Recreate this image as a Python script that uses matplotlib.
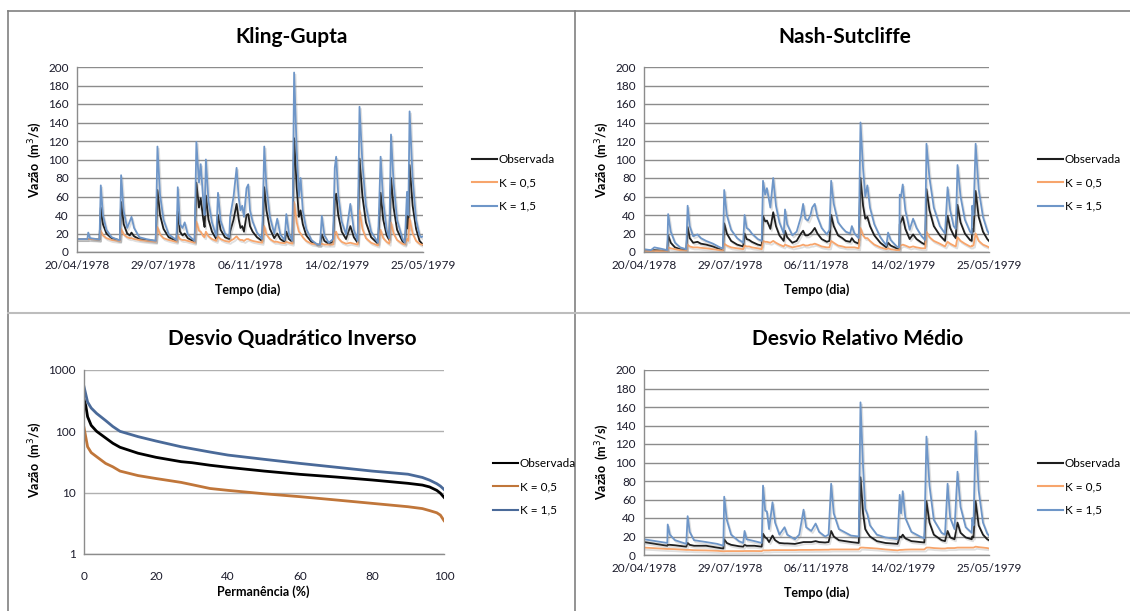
import matplotlib
matplotlib.use("Agg")
import matplotlib.pyplot as plt
import matplotlib.dates as mdates
import matplotlib.patheffects as pe
from matplotlib.lines import Line2D
import pandas as pd

plt.rcParams["font.family"] = ["Lato", "DejaVu Sans"]

START = pd.Timestamp("1978-04-20")
date_ticks = ["20/04/1978", "29/07/1978", "06/11/1978", "14/02/1979", "25/05/1979"]
labels = ["Observada", "K = 0,5", "K = 1,5"]

# ---- Kling-Gupta (dias desde 20/04/1978, vazão m3/s) ----
kg_days = [0, 10, 12, 13, 15, 26, 27.5, 30, 34, 40, 48, 49.5, 51, 54, 58, 61, 63, 66, 72, 80,
           91, 93, 96, 100, 106, 115, 116.5, 119, 122, 124.5, 128, 136, 138, 141, 143, 146,
           147.5, 149, 152, 156, 161, 163, 166, 171, 176, 177, 181, 184.5, 187, 189, 191, 193,
           196, 198, 200, 203, 208, 214, 216.5, 219, 223, 228, 231.5, 235, 240, 242, 245, 249,
           251, 254, 256.5, 258.5, 261, 265, 271, 278, 281, 283, 286, 291, 296, 298, 299.6,
           302, 306, 311, 316, 320, 324.5, 326.6, 330, 334, 340, 348, 351, 354, 358, 361, 363,
           366, 370, 376, 379, 381.5, 383, 384.5, 388, 392, 396, 398, 400]
kg_obs = [14, 14, 14, 14, 14, 13.5, 48, 30, 20, 15, 13, 13, 54, 30, 20, 18, 21, 17, 14, 13,
          12, 67, 40, 25, 16, 12, 44, 22, 18, 20, 15, 11, 75, 48, 58, 35,
          27, 61, 35, 22, 14, 40, 24, 16, 14, 22, 35, 52, 35, 26, 28, 22,
          40, 41, 28, 22, 16, 12, 70, 45, 25, 15, 20, 14, 11, 22, 14, 11,
          123, 70, 38, 45, 30, 18, 11, 8, 8, 19, 12, 9, 11, 56, 63,
          40, 22, 14, 28, 16, 10, 101, 60, 32, 16, 9, 64, 35, 18, 13, 80,
          48, 24, 12, 9, 40, 25, 94, 50, 25, 12, 10, 8]
kg_k05 = [14, 14, 14, 14, 14, 13.5, 23, 18, 15, 13, 12, 12, 25, 19, 16, 15, 15, 14, 13, 12,
          11, 27, 19, 15, 13, 11, 18, 14, 13, 13, 12, 10, 33, 23, 22, 17,
          16, 22, 17, 14, 12, 17, 14, 12, 11, 12, 14, 17, 14, 13, 13, 12,
          14, 14, 13, 12, 11, 10, 28, 19, 14, 11, 11, 10, 9.5, 11, 10, 9,
          54, 32, 22, 20, 16, 12, 9, 8, 8, 9, 8, 8, 8, 20, 22,
          15, 11, 9, 10, 9, 8, 45, 25, 15, 10, 7, 24, 15, 11, 9, 32,
          20, 13, 9, 8, 14, 12, 36, 20, 12, 9, 8, 8]
kg_k15 = [14, 14, 14, 21, 15, 13.5, 72, 40, 24, 16, 13, 13, 83, 44, 26, 33, 38, 26, 16, 14,
          12, 114, 62, 35, 19, 13, 70, 30, 26, 32, 19, 12, 119, 75, 95, 55,
          40, 100, 55, 32, 17, 64, 34, 20, 16, 38, 60, 91, 58, 45, 50, 38,
          69, 73, 45, 33, 21, 14, 114, 70, 38, 20, 36, 19, 13, 41, 20, 12,
          194, 110, 60, 80, 45, 25, 13, 8, 8, 39, 18, 10, 14, 91, 103,
          62, 33, 19, 52, 24, 12, 157, 95, 50, 22, 10, 103, 55, 24, 15, 127,
          75, 35, 15, 10, 65, 40, 152, 80, 35, 18, 16, 17]

# ---- Nash-Sutcliffe ----
ns_days = [0, 8, 12, 20, 27, 28, 31, 36, 42, 49, 50.6, 53, 57, 62, 66, 72, 80, 88, 91.5, 93,
           96, 101, 108, 115, 116.6, 119, 122, 125, 132, 136.5, 138, 140.5, 142.5, 146.5,
           149.8, 153, 157, 162, 163.5, 166, 172, 177, 182, 184.5, 187, 190, 193, 195, 198,
           201, 206, 212, 215, 217, 220, 225, 230, 234, 239, 241, 244, 249, 251, 254, 256.5,
           259, 262, 267, 274, 281, 283, 286, 293, 296, 296.5, 298, 300, 303, 308, 312, 316,
           322, 326, 327.5, 331, 336, 343, 349, 352, 355, 359, 361.5, 363.5, 367, 372, 378,
           380, 380.5, 382, 384.5, 388, 393, 398, 400]
ns_obs = [2, 1.5, 2, 1.5, 1, 18, 10, 5, 3, 2, 27, 15, 10, 11, 9, 8, 6, 3, 2, 31,
          20, 12, 8, 6, 20, 14, 13, 11, 8, 7, 39, 33, 34, 25,
          43, 28, 18, 12, 23, 16, 10, 12, 20, 23, 18, 18, 20, 22, 26,
          20, 14, 11, 12, 40, 28, 18, 15, 12, 11, 15, 11, 9, 80, 50, 36,
          38, 28, 18, 10, 5, 10, 7, 4, 3, 30, 33, 38, 25, 14, 19, 14,
          10, 8, 68, 45, 28, 18, 12, 39, 26, 18, 15, 51, 32, 20, 13,
          12, 25, 22, 66, 38, 22, 14, 12]
ns_k05 = [1, 1, 1, 1, 0.8, 5, 4, 3, 2, 1.5, 8, 6, 5, 5, 4.5, 4, 3, 2, 1.5, 9,
          7, 5, 4, 3, 7, 6, 6, 5, 4, 3, 12, 11, 11, 10,
          12, 10, 8, 6, 8, 7, 5, 6, 7, 8, 7, 7, 8, 8, 9,
          8, 6, 5, 5, 12, 10, 7, 6, 5, 5, 5, 5, 4, 26, 18, 15,
          15, 12, 8, 5, 3, 4, 3, 2, 2, 6, 7, 8, 7, 5, 6, 5,
          4, 4, 22, 16, 12, 9, 6, 11, 9, 7, 6, 16, 12, 9, 6,
          6, 7, 7, 20, 12, 8, 6, 5]
ns_k15 = [3, 2, 5, 3.5, 2, 41, 22, 10, 5, 3, 50, 28, 17, 19, 15, 12, 9, 5, 4, 67,
          40, 24, 15, 10, 40, 26, 24, 20, 14, 12, 77, 62, 69, 48,
          80, 50, 32, 20, 46, 30, 18, 22, 38, 52, 36, 34, 40, 48, 52,
          38, 26, 19, 24, 77, 52, 32, 26, 22, 20, 28, 20, 15, 140, 90, 60,
          72, 48, 30, 16, 7, 21, 13, 6, 5, 62, 60, 73, 45, 24, 36, 26,
          17, 13, 117, 80, 48, 28, 20, 70, 45, 28, 25, 94, 60, 35, 22,
          20, 50, 40, 117, 68, 38, 23, 20]

# ---- Desvio Quadrático Inverso (curva de permanência) ----
dqi_perm = [0, 0.5, 1, 2, 3.5, 6, 8, 10, 15, 20, 27, 30, 35, 40, 50, 60, 70, 80, 90, 94, 96,
            98, 99, 100]
dqi_obs = [330, 260, 173, 125, 100, 78, 64, 55, 44, 37.7, 32, 30.8, 28, 25.9, 22.5, 19.9, 18,
           16.1, 14.2, 13.3, 12.4, 10.9, 9.8, 8.4]
dqi_k05 = [115, 80, 56, 45, 38.6, 30, 26.4, 22.5, 19, 17, 14.7, 13.5, 11.7, 10.9, 9.6, 8.6, 7.6,
           6.7, 5.9, 5.5, 5.1, 4.7, 4.3, 3.5]
dqi_k15 = [535, 400, 300, 240, 196, 150, 120, 100, 82, 69.5, 56, 52, 46, 41, 35, 30, 26,
           22.5, 20, 17.7, 16, 14, 12.8, 11.3]

# ---- Desvio Relativo Médio ----
drm_days = [0, 10, 27, 27.5, 30, 36, 49, 50.6, 53, 58, 72, 85, 92, 93, 96, 101, 110, 115, 116.6,
            119, 128, 136.5, 138, 140.5, 142.5, 145, 149, 152, 157, 163, 166, 175, 180, 185,
            188, 194, 199, 203, 210, 214, 217, 220, 226, 240, 249, 251, 254, 256.5, 259, 262,
            270, 280, 294, 296.5, 298, 300, 303, 310, 320, 325, 327.5, 331, 336, 345, 349, 352,
            355, 360, 363.5, 367, 373, 380, 380.5, 382, 384.5, 388, 393, 398, 400]
drm_obs = [14, 12.5, 10, 11, 11, 10.5, 9, 13, 11, 10, 10, 8, 7, 17, 13, 11, 9.5, 9, 11,
           10, 10, 9, 23, 19, 18, 14, 21, 16, 13, 12.5, 12.5, 12, 13, 14,
           14, 14, 15, 14, 13.5, 14, 26, 20, 16, 14, 13, 84, 45, 28, 24, 20,
           15, 13, 12, 20, 19, 22, 18, 15, 14, 13.5, 58, 35, 22, 16, 15, 26,
           19, 17, 35, 24, 19, 17, 20, 19, 58, 32, 22, 17, 16]
drm_k05 = [8, 7.5, 6.5, 6.5, 6.5, 6.3, 5.5, 5.5, 5.5, 5.2, 5, 4.5, 4, 4, 4.2, 4.2, 4.2, 4.2, 4.3,
           4.3, 4.3, 4.2, 5, 5, 5, 5, 5.3, 5.3, 5.3, 5.3, 5.3, 5.3, 5.5, 5.5,
           5.5, 5.5, 5.6, 5.6, 5.7, 5.7, 6, 6, 6, 6, 6, 8, 8, 7.8, 7.7, 7.5,
           7, 6, 5, 5.5, 5.5, 5.6, 5.8, 6, 6, 6, 8, 8, 7.5, 7, 7, 7.5,
           7.5, 7.5, 8, 8, 8, 8, 8, 8, 9, 8.5, 8, 7.5, 7]
drm_k15 = [17, 15.5, 13, 33, 22, 16, 12, 42, 25, 16, 14, 12, 10, 63, 38, 22, 15, 13, 26,
           17, 15, 13, 75, 48, 47, 28, 57, 35, 22, 30, 22, 17, 22, 49,
           30, 26, 34, 25, 20, 22, 77, 45, 28, 21, 20, 165, 95, 50, 44, 32,
           22, 19, 17, 65, 45, 69, 40, 25, 20, 18, 128, 75, 38, 24, 22, 77,
           40, 28, 90, 52, 30, 24, 40, 32, 134, 70, 35, 23, 21]

TS_COLORS = ["#1e1e1e", "#f7a56c", "#6e96c8"]
FDC_COLORS = ["#000000", "#c0763a", "#4a6a99"]
TICK_COLOR = "#1b1b2b"
W, H = 1130, 611
SHADOW = [pe.SimpleLineShadow(offset=(1, -1.5), shadow_color="#808080", alpha=0.25), pe.Normal()]


def fx(px):
    return px / W


def fy(py):
    return 1 - py / H


def style_axes(ax):
    for side in ("top", "right"):
        ax.spines[side].set_visible(False)
    for side in ("left", "bottom"):
        ax.spines[side].set_color("#8c8c8c")
        ax.spines[side].set_linewidth(1)
    ax.tick_params(length=0, labelsize=8.5, colors=TICK_COLOR, pad=6)
    ax.set_axisbelow(True)


def add_legend(ax, colors, y_center):
    handles = [Line2D([], [], color=c, lw=1.5) for c in colors]
    bb = ax.get_position()
    fig.legend(handles, labels, loc="center left",
               bbox_to_anchor=(bb.x1 + fx(49), fy(y_center)), frameon=False,
               fontsize=8.5, handlelength=2.1, handletextpad=0.15, labelspacing=1.05,
               borderpad=0, borderaxespad=0)


def time_panel(rect, days, series, title, title_x, title_y, legend_y):
    ax = fig.add_axes(rect)
    x = START + pd.to_timedelta(pd.Series(days), unit="D")
    for vals, c in zip(series, TS_COLORS):
        ax.plot(x, vals, color=c, lw=1.3, solid_joinstyle="round", path_effects=SHADOW)
    ax.set_xlim(START, START + pd.Timedelta(days=400))
    ax.set_ylim(0, 200)
    ax.set_yticks(range(0, 201, 20))
    ticks = [pd.to_datetime(d, format="%d/%m/%Y") for d in date_ticks]
    ax.set_xticks(ticks)
    ax.xaxis.set_major_formatter(mdates.DateFormatter("%d/%m/%Y"))
    ax.tick_params(axis="x", pad=10)
    ax.grid(axis="y", color="#8c8c8c", lw=1)
    style_axes(ax)
    add_legend(ax, TS_COLORS, legend_y)
    fig.text(fx(title_x), fy(title_y), title, ha="center", va="center", fontsize=15,
             fontweight="bold", color="black")
    return ax


fig = plt.figure(figsize=(11.3, 6.11), dpi=100)

# moldura da grade 2x2
fig.add_artist(Line2D([fx(8), fx(8)], [0, fy(11)], color="#808080", lw=1.2))
fig.add_artist(Line2D([fx(8), 1], [fy(11), fy(11)], color="#808080", lw=1.2))
fig.add_artist(Line2D([fx(575), fx(575)], [0, fy(11)], color="#808080", lw=1.2))
fig.add_artist(Line2D([fx(8), 1], [fy(313), fy(313)], color="#bdbdbd", lw=1.5))

time_panel([fx(77), fy(252), fx(346), fy(67) - fy(252)], kg_days,
           [kg_obs, kg_k05, kg_k15], "Kling-Gupta", 292, 37, 183)
time_panel([fx(644), fy(252), fx(345), fy(67) - fy(252)], ns_days,
           [ns_obs, ns_k05, ns_k15], "Nash-Sutcliffe", 845, 37, 183)
time_panel([fx(644), fy(555), fx(345), fy(370) - fy(555)], drm_days,
           [drm_obs, drm_k05, drm_k15], "Desvio Relativo Médio", 858, 339, 487)

# curva de permanência
ax3 = fig.add_axes([fx(84), fy(554), fx(360), fy(370) - fy(554)])
for vals, c in zip([dqi_obs, dqi_k05, dqi_k15], FDC_COLORS):
    ax3.plot(dqi_perm, vals, color=c, lw=2)
ax3.set_yscale("log")
ax3.set_ylim(1, 1000)
ax3.set_xlim(0, 100)
ax3.set_yticks([1, 10, 100, 1000])
ax3.set_yticklabels(["1", "10", "100", "1000"])
ax3.minorticks_off()
ax3.set_xticks(range(0, 101, 20))
ax3.grid(axis="y", color="#b0b0b0", lw=1)
style_axes(ax3)
ax3.tick_params(axis="x", pad=12)
add_legend(ax3, FDC_COLORS, 487)
fig.text(fx(292), fy(339), "Desvio Quadrático Inverso", ha="center", va="center",
         fontsize=15, fontweight="bold")

# rótulos dos eixos
for x, y in [(35, 160), (602, 160), (35, 460), (602, 462)]:
    fig.text(fx(x), fy(y), "Vazão  (m$^3$/s)", rotation=90, ha="center", va="center",
             fontsize=9, fontweight="bold")
for x, y, s in [(248, 290, "Tempo (dia)"), (817, 290, "Tempo (dia)"),
                (263, 592, "Permanência (%)"), (817, 593, "Tempo (dia)")]:
    fig.text(fx(x), fy(y), s, ha="center", va="center", fontsize=9, fontweight="bold")

fig.savefig("out.png", dpi=100)
